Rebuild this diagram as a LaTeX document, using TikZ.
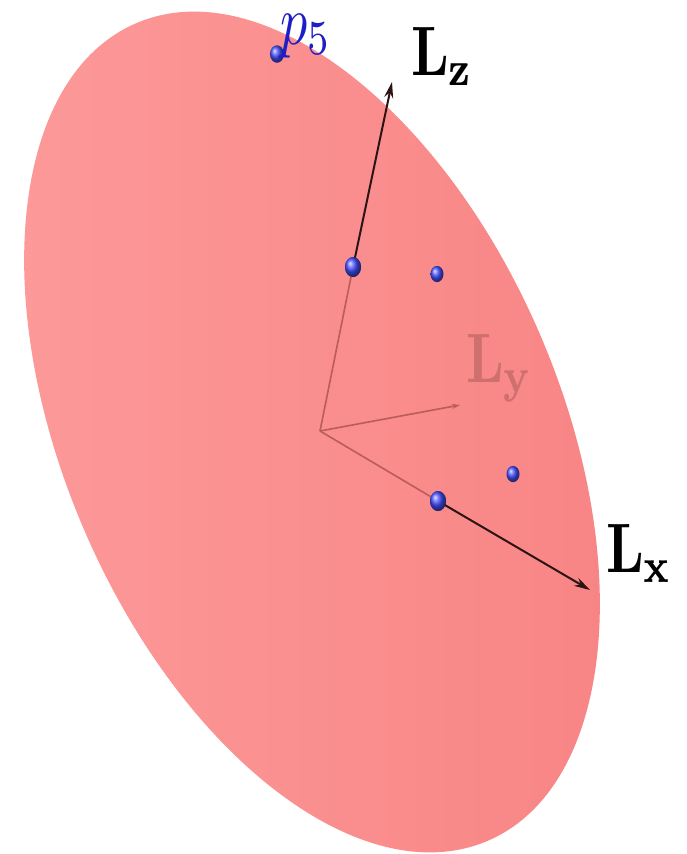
\documentclass[tikz,border=0pt]{standalone}
\usepackage{graphicx}
\usetikzlibrary{arrows.meta,shapes.geometric}
\definecolor{planelt}{RGB}{253,154,154}
\definecolor{planedk}{RGB}{248,132,132}
\definecolor{hidden}{RGB}{186,92,88}
\definecolor{hiddentxt}{RGB}{205,112,110}
\definecolor{ptblue}{RGB}{70,80,255}
\definecolor{lblblue}{RGB}{30,30,200}
\definecolor{axdark}{RGB}{45,20,20}
\definecolor{tipgray}{RGB}{70,70,70}
\begin{document}
\begin{tikzpicture}[x=1pt,y=-1pt,
  dot/.style={ellipse, inner sep=0pt, minimum width=#1*2pt, minimum height=#1*2.5pt, shading=ball, ball color=ptblue},
  hiddenline/.style={draw=hidden, line width=1.6pt},
  visarrow/.style={draw=axdark, line width=2pt, -{Stealth[length=16pt,width=9pt,fill=tipgray]}},
  lbl/.style={inner sep=0pt, anchor=base west}]
\useasboundingbox (0,0) rectangle (686,854);
\fill[white] (0,0) rectangle (686,854);
% plane
\shade[left color=planelt, right color=planedk, rotate around={113.3:(312,432)}]
  (312,432) ellipse [x radius=445pt, y radius=248pt];
% points and axes
\coordinate (O) at (320,431);
\coordinate (ztip) at (392,82);
\coordinate (ytip) at (460,405);
\coordinate (xtip) at (590,590);
\node[dot=7] (p5) at (277,54) {};
\node[dot=8] (pz) at (353,267) {};
\node[dot=6.5] (pa) at (437,274) {};
\node[dot=6.5] (pb) at (513,474) {};
\node[dot=8] (px) at (438,501) {};
\draw[hiddenline] (O) -- (pz.center);
\draw[hiddenline, -{Stealth[length=8pt,width=5pt]}] (O) -- (ytip);
\draw[hiddenline] (O) -- (px.center);
\draw[visarrow] (pz.center) -- (ztip);
\draw[visarrow] (px.center) -- (xtip);
\node[dot=8] at (pz.center) {};
\node[dot=8] at (px.center) {};
% labels
\node[lbl] (lz) at (411,75) {\scalebox{5.46}[7]{$\mathbf{L}_{\mathbf{z}}$}};
\node[lbl] (lx) at (606,572) {\scalebox{5.46}[7]{$\mathbf{L}_{\mathbf{x}}$}};
\node[lbl, text=hiddentxt] (ly) at (466,382) {\scalebox{5.46}[7]{$\mathbf{L}_{\mathbf{y}}$}};
\node[lbl, text=lblblue] (lp) at (280,44) {\scalebox{5.4}[7.0]{$p_{5}$}};
\end{tikzpicture}
\end{document}
